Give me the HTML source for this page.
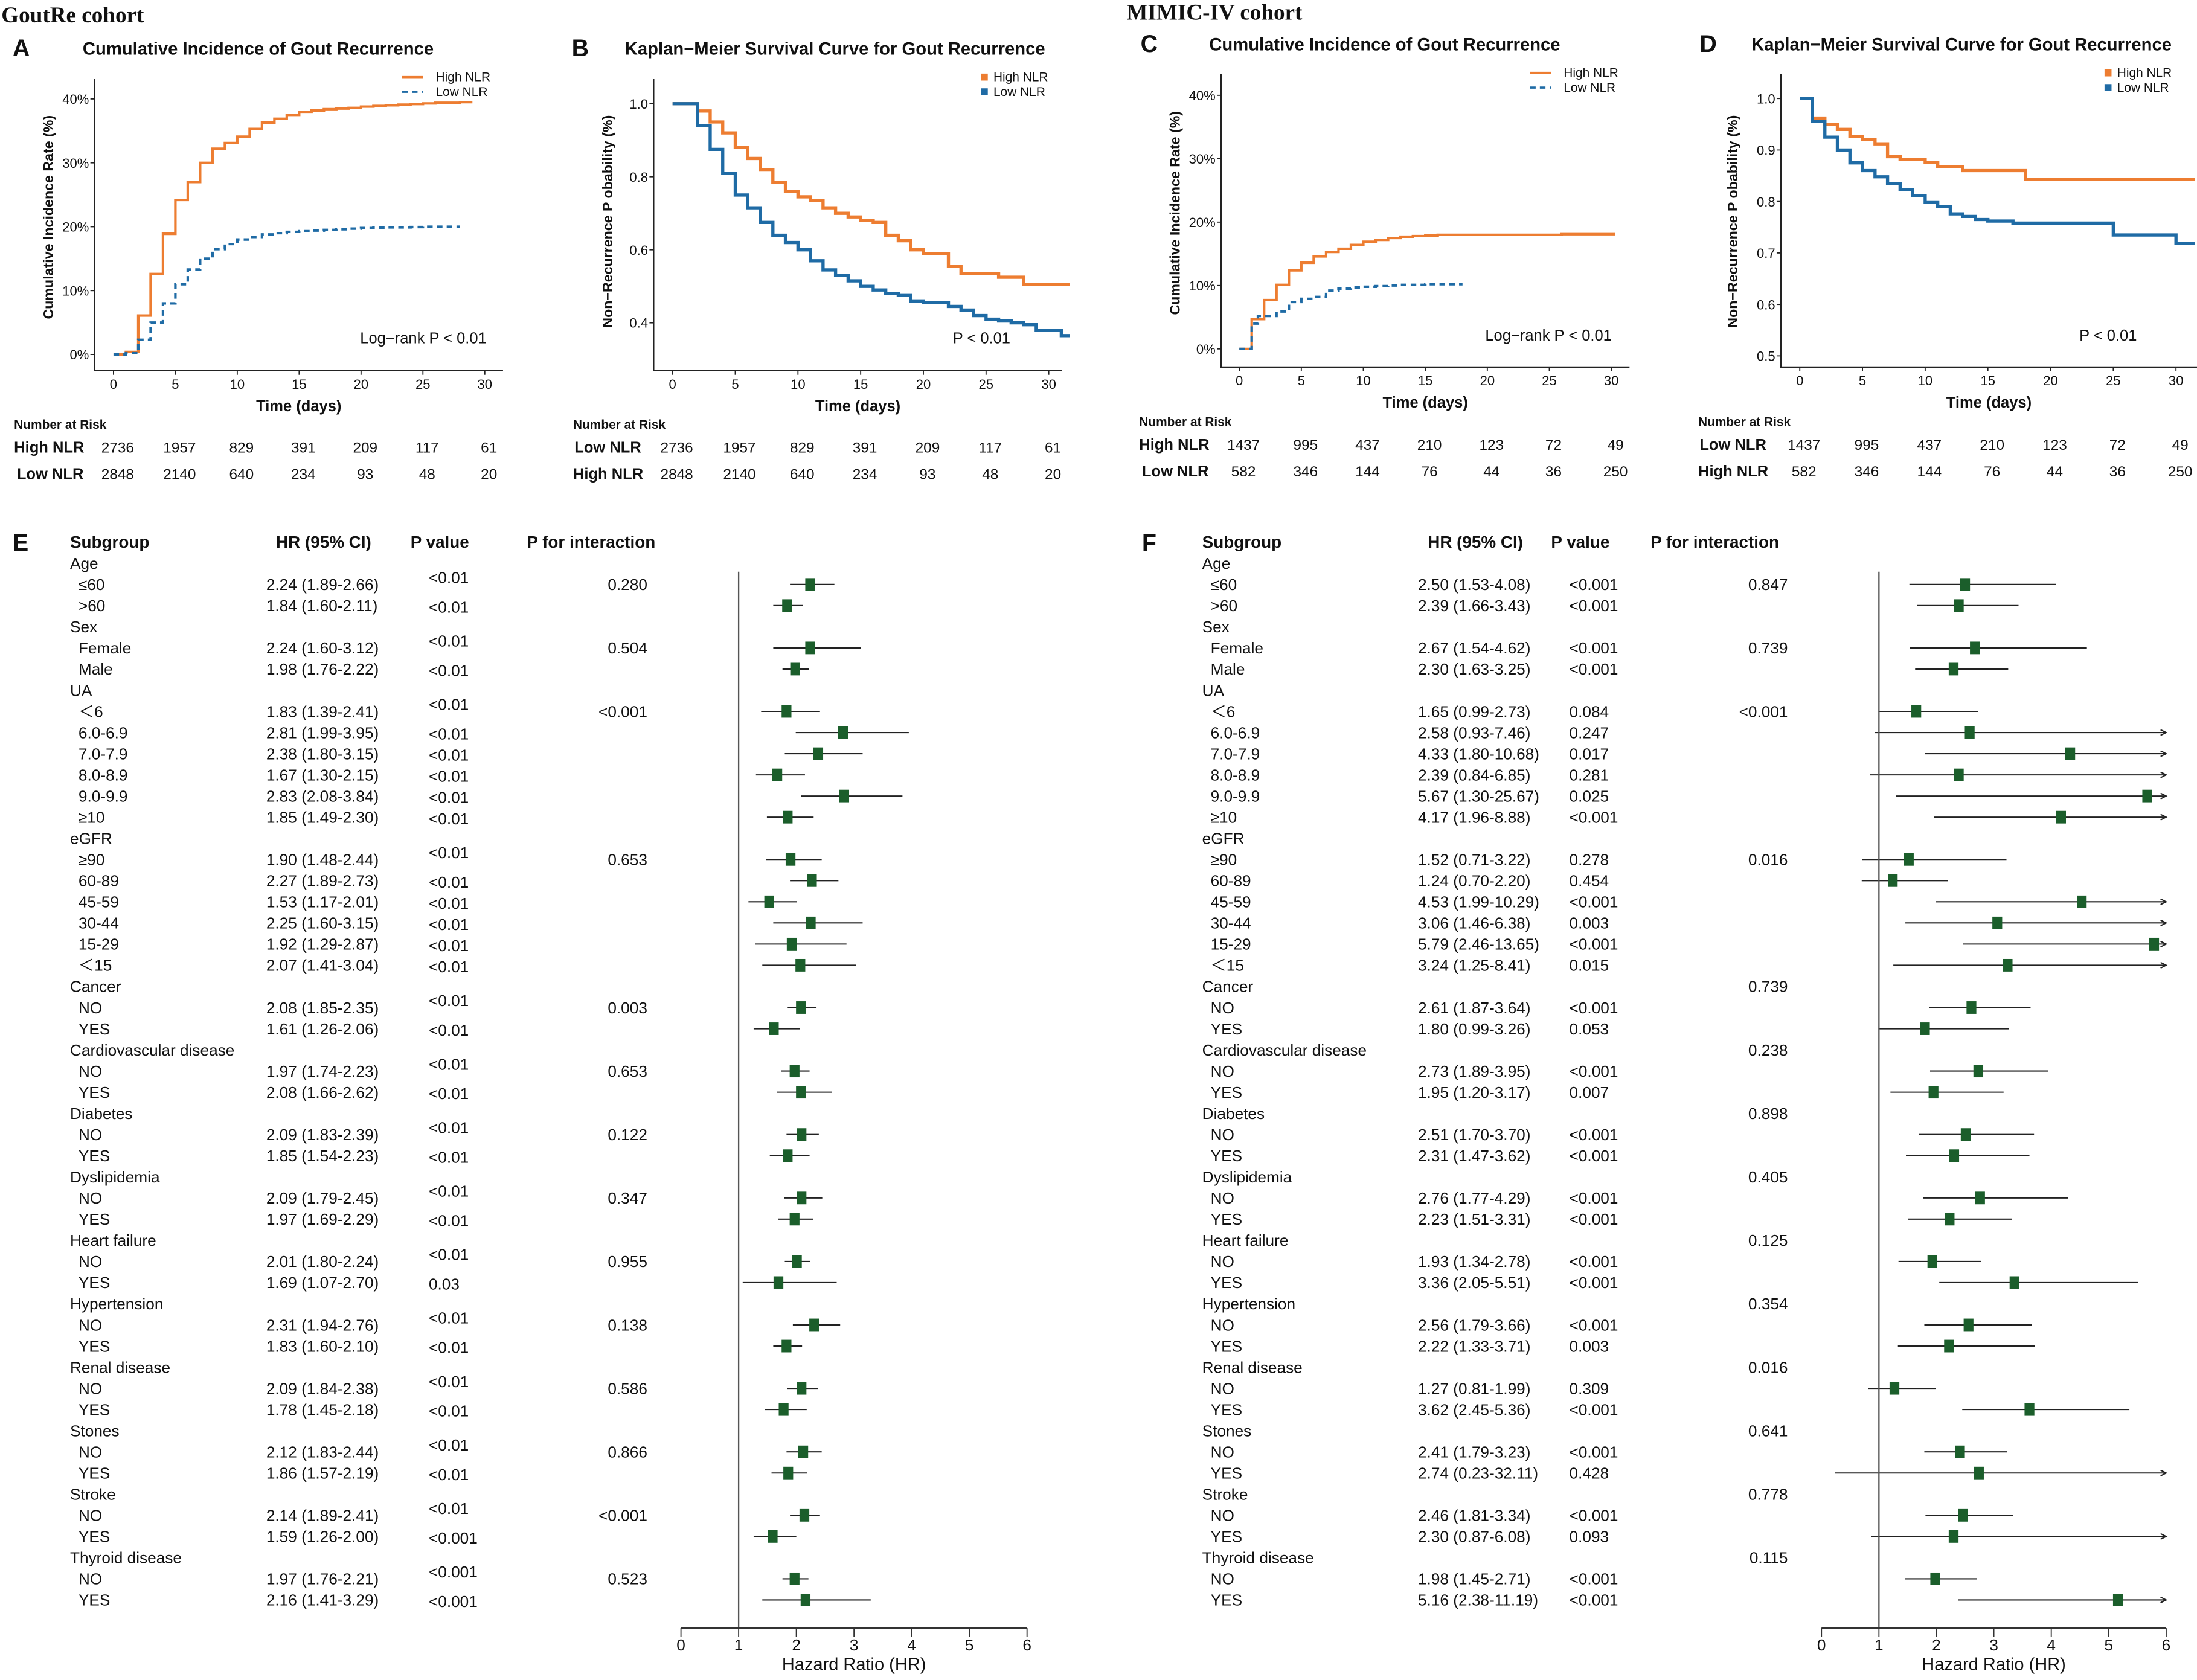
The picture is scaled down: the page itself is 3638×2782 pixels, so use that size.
<!DOCTYPE html>
<html><head><meta charset="utf-8">
<style>
html,body{margin:0;padding:0;background:#fff;}
svg{display:block;}
text{font-family:"Liberation Sans",Arial,sans-serif;fill:#111;}
.b{font-weight:bold;}
.serif{font-family:"Liberation Serif",serif;font-weight:bold;}
</style></head>
<body>
<svg id="fig" width="3638" height="2782" viewBox="0 0 1568 1199" xmlns="http://www.w3.org/2000/svg"></svg>
<script>
// ---------- Panel A (GoutRe cumulative incidence, %) ----------
const aTimes = [0,1,2,3,4,5,6,7,8,9,10,11,12,13,14,15,16,17,18,19,20,21,22,23,24,25,26,27,28];
const aHigh  = [0,0.4,6.1,12.6,18.9,24.2,27,30,32.2,33.1,34.1,35.3,36.3,36.9,37.5,38,38.2,38.4,38.5,38.6,38.8,38.9,39.0,39.1,39.2,39.3,39.4,39.4,39.5];
const aLow   = [0,0.2,2.3,5,8,11,13.3,15,16.5,17.3,18,18.4,18.8,19.0,19.2,19.3,19.4,19.5,19.6,19.7,19.8,19.85,19.9,19.9,19.95,20,20,20,20];
const aHighEnd = 29, aLowEnd = 28;
// ---------- Panel B (GoutRe KM) ----------
const bTimes = [0,2,3,4,5,6,7,8,9,10,11,12,13,14,15,16,17,18,19,20,21,22,23,24,25,26,27,28,29,30,31];
const bHigh  = [1,0.98,0.95,0.92,0.88,0.85,0.82,0.785,0.76,0.745,0.735,0.715,0.70,0.69,0.68,0.675,0.64,0.625,0.60,0.59,0.59,0.555,0.535,0.535,0.535,0.525,0.525,0.505,0.505,0.505,0.505];
const bLow   = [1,0.94,0.875,0.81,0.75,0.715,0.675,0.64,0.62,0.60,0.57,0.545,0.53,0.515,0.50,0.49,0.48,0.475,0.46,0.455,0.455,0.445,0.435,0.42,0.41,0.405,0.40,0.395,0.38,0.38,0.365];
const bEnd = 31.7;
// ---------- Panel C (MIMIC cumulative incidence, %) ----------
const cTimes = [0,1,2,3,4,5,6,7,8,9,10,11,12,13,14,15,16,17,26];
const cHigh  = [0,4.7,7.7,10.1,12.4,13.6,14.6,15.3,15.8,16.4,16.9,17.2,17.5,17.7,17.8,17.9,18.0,18.0,18.1];
const cLowT  = [0,1,1.5,3,4,5,6,7,8,9,10,11,12,13,14,15];
const cLow   = [0,4.0,5.2,5.9,7.4,7.9,8.2,9.2,9.5,9.7,9.8,9.9,10.0,10.1,10.1,10.2];
const cHighEnd = 30.3, cLowEnd = 18;
// ---------- Panel D (MIMIC KM) ----------
const dHighT = [0,1,2,3,4,5,6,7,8,10,11,13,18];
const dHigh  = [1,0.962,0.95,0.94,0.926,0.92,0.912,0.887,0.882,0.876,0.868,0.86,0.843];
const dLowT  = [0,1,2,3,4,5,6,7,8,9,10,11,12,13,14,15,17,25,30];
const dLow   = [1,0.956,0.925,0.90,0.875,0.86,0.848,0.835,0.823,0.811,0.798,0.79,0.776,0.771,0.765,0.762,0.758,0.735,0.719];
const dEnd = 31.5;
// ---------- Risk tables ----------
const riskTicks = [0,5,10,15,20,25,30];
const riskA1 = ["2736","1957","829","391","209","117","61"];
const riskA2 = ["2848","2140","640","234","93","48","20"];
const riskC1 = ["1437","995","437","210","123","72","49"];
const riskC2 = ["582","346","144","76","44","36","250"];
// ---------- Forest rows ----------
const rowLabels = ["Age","≤60",">60","Sex","Female","Male","UA","＜6","6.0-6.9","7.0-7.9","8.0-8.9","9.0-9.9","≥10","eGFR","≥90","60-89","45-59","30-44","15-29","＜15","Cancer","NO","YES","Cardiovascular disease","NO","YES","Diabetes","NO","YES","Dyslipidemia","NO","YES","Heart failure","NO","YES","Hypertension","NO","YES","Renal disease","NO","YES","Stones","NO","YES","Stroke","NO","YES","Thyroid disease","NO","YES"];
const rowIsHeader = [1,0,0,1,0,0,1,0,0,0,0,0,0,1,0,0,0,0,0,0,1,0,0,1,0,0,1,0,0,1,0,0,1,0,0,1,0,0,1,0,0,1,0,0,1,0,0,1,0,0];
// E values (null for header rows)
const eHR = [null,2.24,1.84,null,2.24,1.98,null,1.83,2.81,2.38,1.67,2.83,1.85,null,1.90,2.27,1.53,2.25,1.92,2.07,null,2.08,1.61,null,1.97,2.08,null,2.09,1.85,null,2.09,1.97,null,2.01,1.69,null,2.31,1.83,null,2.09,1.78,null,2.12,1.86,null,2.14,1.59,null,1.97,2.16];
const eLo = [null,1.89,1.60,null,1.60,1.76,null,1.39,1.99,1.80,1.30,2.08,1.49,null,1.48,1.89,1.17,1.60,1.29,1.41,null,1.85,1.26,null,1.74,1.66,null,1.83,1.54,null,1.79,1.69,null,1.80,1.07,null,1.94,1.60,null,1.84,1.45,null,1.83,1.57,null,1.89,1.26,null,1.76,1.41];
const eHi = [null,2.66,2.11,null,3.12,2.22,null,2.41,3.95,3.15,2.15,3.84,2.30,null,2.44,2.73,2.01,3.15,2.87,3.04,null,2.35,2.06,null,2.23,2.62,null,2.39,2.23,null,2.45,2.29,null,2.24,2.70,null,2.76,2.10,null,2.38,2.18,null,2.44,2.19,null,2.41,2.00,null,2.21,3.29];
const eP  = ["","<0.01","<0.01","","<0.01","<0.01","","<0.01","<0.01","<0.01","<0.01","<0.01","<0.01","","<0.01","<0.01","<0.01","<0.01","<0.01","<0.01","","<0.01","<0.01","","<0.01","<0.01","","<0.01","<0.01","","<0.01","<0.01","","<0.01","0.03","","<0.01","<0.01","","<0.01","<0.01","","<0.01","<0.01","","<0.01","<0.001","","<0.001","<0.001"];
const eInt = ["","0.280","","","0.504","","","<0.001","","","","","","","0.653","","","","","","","0.003","","","0.653","","","0.122","","","0.347","","","0.955","","","0.138","","","0.586","","","0.866","","","<0.001","","","0.523",""];
// F values
const fHR = [null,2.50,2.39,null,2.67,2.30,null,1.65,2.58,4.33,2.39,5.67,4.17,null,1.52,1.24,4.53,3.06,5.79,3.24,null,2.61,1.80,null,2.73,1.95,null,2.51,2.31,null,2.76,2.23,null,1.93,3.36,null,2.56,2.22,null,1.27,3.62,null,2.41,2.74,null,2.46,2.30,null,1.98,5.16];
const fLo = [null,1.53,1.66,null,1.54,1.63,null,0.99,0.93,1.80,0.84,1.30,1.96,null,0.71,0.70,1.99,1.46,2.46,1.25,null,1.87,0.99,null,1.89,1.20,null,1.70,1.47,null,1.77,1.51,null,1.34,2.05,null,1.79,1.33,null,0.81,2.45,null,1.79,0.23,null,1.81,0.87,null,1.45,2.38];
const fHi = [null,4.08,3.43,null,4.62,3.25,null,2.73,7.46,10.68,6.85,25.67,8.88,null,3.22,2.20,10.29,6.38,13.65,8.41,null,3.64,3.26,null,3.95,3.17,null,3.70,3.62,null,4.29,3.31,null,2.78,5.51,null,3.66,3.71,null,1.99,5.36,null,3.23,32.11,null,3.34,6.08,null,2.71,11.19];
const fP  = ["","<0.001","<0.001","","<0.001","<0.001","","0.084","0.247","0.017","0.281","0.025","<0.001","","0.278","0.454","<0.001","0.003","<0.001","0.015","","<0.001","0.053","","<0.001","0.007","","<0.001","<0.001","","<0.001","<0.001","","<0.001","<0.001","","<0.001","0.003","","0.309","<0.001","","<0.001","0.428","","<0.001","0.093","","<0.001","<0.001"];
const fInt = ["","0.847","","","0.739","","","<0.001","","","","","","","0.016","","","","","","0.739","","","0.238","","","0.898","","","0.405","","","0.125","","","0.354","","","0.016","","","0.641","","","0.778","","","0.115","",""];
const hrTicks = [0,1,2,3,4,5,6];
const tTicks = [0,5,10,15,20,25,30];

const NS="http://www.w3.org/2000/svg";
const svg=document.getElementById('fig');
function el(tag,attrs,parent){const e=document.createElementNS(NS,tag);for(const k in attrs)e.setAttribute(k,attrs[k]);(parent||svg).appendChild(e);return e;}
function tx(x,y,s,size,opts,parent){opts=opts||{};const t=el('text',{x:x,y:y,'font-size':size},parent);if(opts.cls)t.setAttribute('class',opts.cls);if(opts.anchor)t.setAttribute('text-anchor',opts.anchor);if(opts.fill)t.setAttribute('fill',opts.fill);if(opts.rot)t.setAttribute('transform','rotate(-90 '+x+' '+y+')');t.textContent=s;return t;}
const OR="#ED7D31", BL="#1F6BA5";

function stepPath(times,vals,end,X,Y){let d='M'+X(times[0])+' '+Y(vals[0]);for(let i=1;i<times.length;i++){d+=' H'+X(times[i])+' V'+Y(vals[i]);}d+=' H'+X(end);return d;}

function panel(cfg){
  const g=el('g',{});  
  const X=t=>cfg.x0+(cfg.x30-cfg.x0)*t/30;
  const Y=v=>cfg.yb+(cfg.yt-cfg.yb)*(v-cfg.vb)/(cfg.vt-cfg.vb);
  // letter + title
  const L=tx(cfg.letterX,cfg.titleY+1,cfg.letter,17,{cls:'b'},g);  
  const T=tx(cfg.titleX,cfg.titleY,cfg.title,12.6,{cls:'b'},g);  
  // axes
  const ax=el('path',{d:'M'+cfg.axX+' '+cfg.axTop+' V'+cfg.axY+' H'+cfg.axRight,stroke:'#222','stroke-width':1,fill:'none'},g);
   
  tTicks.forEach(t=>{el('line',{x1:X(t),x2:X(t),y1:cfg.axY,y2:cfg.axY+3,stroke:'#222','stroke-width':0.8},g);
    const l=tx(X(t),cfg.axY+13,String(t),9.5,{anchor:'middle',fill:'#333'},g);  });
  cfg.yTicks.forEach((v,i)=>{el('line',{x1:cfg.axX-3,x2:cfg.axX,y1:Y(v),y2:Y(v),stroke:'#222','stroke-width':0.8},g);
    const l=tx(cfg.axX-4,Y(v)+3.5,cfg.yLabels[i],9.5,{anchor:'end',fill:'#333'},g);  });
  const yl=tx(cfg.ylX,cfg.ylY,cfg.ylabel,10,{cls:'b',anchor:'middle',rot:true},g);  
  const xl=tx((cfg.axX+cfg.axRight)/2,cfg.axY+29,'Time (days)',11,{cls:'b',anchor:'middle'},g);  
  // series
  cfg.series.forEach(s=>{const p=el('path',{d:stepPath(s.t,s.v,s.end,X,Y),stroke:s.color,'stroke-width':s.w||1.8,fill:'none'},g);
    if(s.dash)p.setAttribute('stroke-dasharray',s.dash);
     });
  // legend
  cfg.legend.forEach((l,i)=>{const y=cfg.legY+i*10.5;
    const lg=el('g',{},g);  
    if(l.box){el('rect',{x:cfg.legX+5,y:y-2.5,width:5,height:5,fill:l.color},lg);}
    else{const ln=el('line',{x1:cfg.legX,x2:cfg.legX+15,y1:y,y2:y,stroke:l.color,'stroke-width':1.6},lg);if(l.dash)ln.setAttribute('stroke-dasharray','4 3');}
    tx(cfg.legX+(l.box?14:24),y+3,l.label,9,{fill:'#222'},lg);});
  const pt=tx(cfg.pX,cfg.pY,cfg.pText,11,{fill:'#111'},g);  
  // risk table
  const rh=tx(cfg.riskX,cfg.riskY,'Number at Risk',9,{cls:'b'},g);  
  cfg.riskRows.forEach((r,ri)=>{const y=cfg.riskY+17+ri*19;
    const lab=tx(cfg.riskX+(r.indent||0),y,r.label,11,{cls:'b'},g);  
    r.vals.forEach((v,i)=>{const n=tx(X(riskTicks[i])+3,y,v,10.5,{anchor:'middle',fill:'#222'},g);  });});
}

// cohort titles
let ct=tx(1,16,'GoutRe cohort',16,{cls:'serif'});  
ct=tx(804,14,'MIMIC-IV cohort',16,{cls:'serif'});  

panel({name:'panel-a',letter:'A',letterX:9,title:'Cumulative Incidence of Gout Recurrence',titleX:59,titleY:39,
  x0:81,x30:346,vb:0,vt:40,yb:253,yt:70.6,axX:67.5,axTop:56,axY:264.5,axRight:359,
  yTicks:[0,10,20,30,40],yLabels:['0%','10%','20%','30%','40%'],ylabel:'Cumulative Incidence Rate (%)',ylX:38,ylY:155,
  series:[{t:aTimes,v:aHigh,end:aHighEnd,color:OR,name:'high-nlr-curve'},{t:aTimes,v:aLow,end:aLowEnd,color:BL,dash:'4 3',name:'low-nlr-curve'}],
  legX:287,legY:55,legend:[{label:'High NLR',color:OR},{label:'Low NLR',color:BL,dash:1}],
  pX:257,pY:245,pText:'Log−rank P < 0.01',riskX:10,riskY:306,
  riskRows:[{label:'High NLR',vals:riskA1},{label:'Low NLR',vals:riskA2,indent:2}]});
panel({name:'panel-b',letter:'B',letterX:408,title:'Kaplan−Meier Survival Curve for Gout Recurrence',titleX:446,titleY:39,
  x0:480,x30:748.5,vb:0.4,vt:1.0,yb:230.4,yt:74,axX:466.5,axTop:56,axY:264.5,axRight:758,
  yTicks:[0.4,0.6,0.8,1.0],yLabels:['0.4','0.6','0.8','1.0'],ylabel:'Non−Recurrence P obability (%)',ylX:437,ylY:158,
  series:[{t:bTimes,v:bHigh,end:bEnd,color:OR,name:'high-nlr-curve',w:2.3},{t:bTimes,v:bLow,end:bEnd,color:BL,name:'low-nlr-curve',w:2.3}],
  legX:695,legY:55,legend:[{label:'High NLR',color:OR,box:1},{label:'Low NLR',color:BL,box:1}],
  pX:680,pY:245,pText:'P < 0.01',riskX:409,riskY:306,
  riskRows:[{label:'Low NLR',vals:riskA1,indent:1},{label:'High NLR',vals:riskA2}]});
panel({name:'panel-c',letter:'C',letterX:814,title:'Cumulative Incidence of Gout Recurrence',titleX:863,titleY:36,
  x0:884.5,x30:1150,vb:0,vt:40,yb:249,yt:68,axX:871.5,axTop:53,axY:262,axRight:1163,
  yTicks:[0,10,20,30,40],yLabels:['0%','10%','20%','30%','40%'],ylabel:'Cumulative Incidence Rate (%)',ylX:842,ylY:152,
  series:[{t:cTimes,v:cHigh,end:cHighEnd,color:OR,name:'high-nlr-curve'},{t:cLowT,v:cLow,end:cLowEnd,color:BL,dash:'4 3',name:'low-nlr-curve'}],
  legX:1092,legY:52,legend:[{label:'High NLR',color:OR},{label:'Low NLR',color:BL,dash:1}],
  pX:1060,pY:243,pText:'Log−rank P < 0.01',riskX:813,riskY:304,
  riskRows:[{label:'High NLR',vals:riskC1},{label:'Low NLR',vals:riskC2,indent:2}]});
panel({name:'panel-d',letter:'D',letterX:1213,title:'Kaplan−Meier Survival Curve for Gout Recurrence',titleX:1250,titleY:36,
  x0:1284.5,x30:1553,vb:0.5,vt:1.0,yb:254,yt:70.3,axX:1271,axTop:53,axY:262,axRight:1568,
  yTicks:[0.5,0.6,0.7,0.8,0.9,1.0],yLabels:['0.5','0.6','0.7','0.8','0.9','1.0'],ylabel:'Non−Recurrence P obability (%)',ylX:1240,ylY:158,
  series:[{t:dHighT,v:dHigh,end:dEnd,color:OR,name:'high-nlr-curve',w:2.3},{t:dLowT,v:dLow,end:dEnd,color:BL,name:'low-nlr-curve',w:2.3}],
  legX:1497,legY:52,legend:[{label:'High NLR',color:OR,box:1},{label:'Low NLR',color:BL,box:1}],
  pX:1484,pY:243,pText:'P < 0.01',riskX:1212,riskY:304,
  riskRows:[{label:'Low NLR',vals:riskC1,indent:1},{label:'High NLR',vals:riskC2}]});

// ---------- forest plots ----------
function forest(cfg){
  const g=el('g',{});  
  const X=v=>cfg.x0+(cfg.x6-cfg.x0)*v/6;
  const rowY=i=>402+i*15.1;
  let t=tx(cfg.letterX,393,cfg.letter,17,{cls:'b'},g);  
  [['Subgroup',cfg.subX],['HR (95% CI)',cfg.hrX],['P value',cfg.pX-13],['P for interaction',cfg.intHX]].forEach(h=>{
    const e=tx(h[1],391,h[0],12,{cls:'b'},g);  });
  rowLabels.forEach((lab,i)=>{
    const y=rowY(i)+4;
    const r=tx(rowIsHeader[i]?cfg.subX:cfg.subX+6,y,lab,11.3,{fill:'#222'},g);  
    if(cfg.hr[i]!==null){
      const s=cfg.hr[i].toFixed(2)+' ('+cfg.lo[i].toFixed(2)+'-'+cfg.hi[i].toFixed(2)+')';
      const h=tx(cfg.hrX-7,y,s,11.3,{fill:'#222'},g);  
      const off=cfg.raise&&rowIsHeader[i-1]?-5:(cfg.raise?1:0);
      const p=tx(cfg.pX,y+off,cfg.p[i],11.3,{fill:'#222'},g);  
      // CI line
      const hiC=Math.min(cfg.hi[i],6);
      const ci=el('line',{x1:X(cfg.lo[i]),x2:X(hiC),y1:rowY(i),y2:rowY(i),stroke:'#222','stroke-width':0.9},g);
       
      if(cfg.hi[i]>6){const ar=el('path',{d:'M'+(X(6)-4)+' '+(rowY(i)-2)+' L'+X(6)+' '+rowY(i)+' L'+(X(6)-4)+' '+(rowY(i)+2),stroke:'#222','stroke-width':0.9,fill:'none'},g);
         }
      const m=el('rect',{x:X(cfg.hr[i])-3.5,y:rowY(i)-4.5,width:7,height:9,fill:'#1B5E2B'},g);
       
    }
    if(cfg.inter[i]){const it=tx(cfg.intX,y,cfg.inter[i],11.3,{anchor:'end',fill:'#222'},g);  }
  });
  const ref=el('line',{x1:X(1),x2:X(1),y1:408,y2:1162,stroke:'#555','stroke-width':1},g);
   
  const ax=el('line',{x1:X(0),x2:X(6),y1:1162,y2:1162,stroke:'#333','stroke-width':1.3},g);
   
  hrTicks.forEach(v=>{el('line',{x1:X(v),x2:X(v),y1:1162,y2:1168,stroke:'#333','stroke-width':0.8},g);
    const l=tx(X(v),1178,String(v),11.3,{anchor:'middle',fill:'#222'},g);  });
  const xt=tx(X(3),1192,'Hazard Ratio (HR)',12.5,{anchor:'middle',fill:'#222'},g);  
}
forest({name:'panel-e-forest',letter:'E',letterX:9,subX:50,hrX:197,pX:306,intHX:376,intX:462,x0:486,x6:733,
  hr:eHR,lo:eLo,hi:eHi,p:eP,inter:eInt,raise:true});
forest({name:'panel-f-forest',letter:'F',letterX:815,subX:858,hrX:1019,pX:1120,intHX:1178,intX:1276,x0:1300,x6:1546,
  hr:fHR,lo:fLo,hi:fHi,p:fP,inter:fInt,raise:false});
</script>
</body></html>
